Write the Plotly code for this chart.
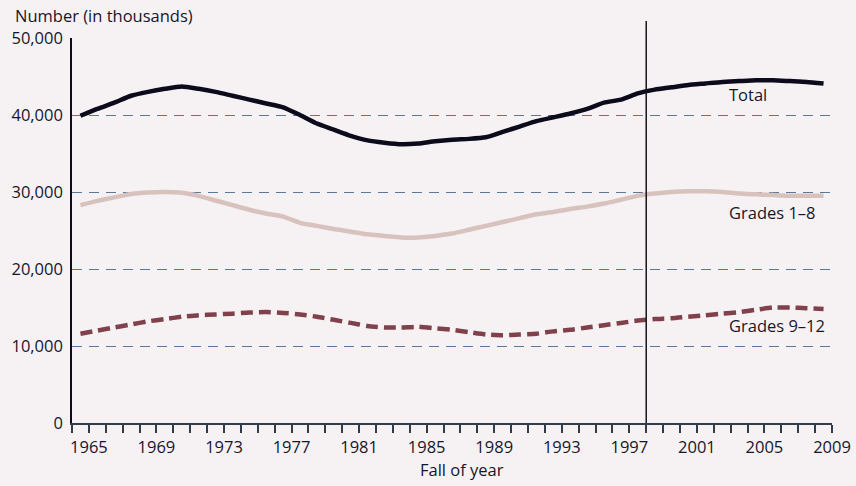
import plotly.graph_objects as go

years = list(range(1965, 2010))
total = [39.9, 40.8, 41.6, 42.5, 43.0, 43.4, 43.7, 43.4, 43.0, 42.5,
         42.0, 41.5, 41.0, 40.0, 38.9, 38.1, 37.3, 36.7, 36.4, 36.2,
         36.3, 36.6, 36.8, 36.9, 37.1, 37.8, 38.5, 39.2, 39.7, 40.2,
         40.8, 41.6, 42.0, 42.8, 43.3, 43.6, 43.9, 44.1, 44.3, 44.4,
         44.5, 44.5, 44.4, 44.3, 44.1]
grades_1_8 = [28.3, 28.85, 29.3, 29.75, 29.95, 30.0, 29.9, 29.5, 28.9, 28.3,
              27.7, 27.2, 26.8, 26.0, 25.6, 25.2, 24.85, 24.5, 24.3, 24.1,
              24.1, 24.3, 24.6, 25.1, 25.6, 26.1, 26.6, 27.1, 27.4, 27.8,
              28.1, 28.5, 29.0, 29.5, 29.8, 30.0, 30.1, 30.1, 30.0, 29.8,
              29.7, 29.6, 29.5, 29.5, 29.5]
grades_9_12 = [11.6, 12.0, 12.4, 12.8, 13.2, 13.5, 13.8, 14.0, 14.1, 14.2,
               14.35, 14.4, 14.3, 14.1, 13.8, 13.4, 13.0, 12.6, 12.4, 12.4,
               12.5, 12.3, 12.1, 11.8, 11.5, 11.4, 11.5, 11.6, 11.9, 12.1,
               12.4, 12.7, 13.0, 13.3, 13.5, 13.6, 13.8, 14.0, 14.2, 14.4,
               14.7, 15.0, 15.0, 14.9, 14.8]
tick_years = list(range(1965, 2010, 4))
y_ticks = [0, 10000, 20000, 30000, 40000, 50000]
projection_year = 1998

# points are drawn centred in each year's interval
xs = [y - 0.5 for y in years]

FONT = "Open Sans"
TXT = "#16162a"
BG = "#f6f2f4"
FS = 16.5

fig = go.Figure()
fig.add_trace(go.Scatter(x=xs, y=[v * 1000 for v in grades_1_8], mode="lines",
                         line=dict(color="#d8c2be", width=4.5, shape="spline", smoothing=0.5),
                         name="Grades 1–8"))
fig.add_trace(go.Scatter(x=xs, y=[v * 1000 for v in grades_9_12], mode="lines",
                         line=dict(color="#80404c", width=4.5, dash="12px,6px", shape="spline", smoothing=0.5),
                         name="Grades 9–12"))
fig.add_trace(go.Scatter(x=xs, y=[v * 1000 for v in total], mode="lines",
                         line=dict(color="#0b0b1c", width=4.5, shape="spline", smoothing=0.5),
                         name="Total"))

fig.add_shape(type="line", xref="x", yref="paper", x0=projection_year, x1=projection_year,
              y0=0, y1=1.044, line=dict(color="#14141e", width=1.5))

annos = [
    dict(text="Projected", x=projection_year + 0.2, y=52100, xanchor="left", yanchor="middle"),
    dict(text="Total", x=2002.8, y=42600, xanchor="left", yanchor="middle"),
    dict(text="Grades 1–8", x=2002.8, y=27300, xanchor="left", yanchor="middle"),
    dict(text="Grades 9–12", x=2002.8, y=12700, xanchor="left", yanchor="middle"),
]
for a in annos:
    fig.add_annotation(**a, xref="x", yref="y", showarrow=False,
                       font=dict(family=FONT, size=FS, color=TXT))

fig.add_annotation(text="Number (in thousands)", xref="paper", yref="paper",
                   x=-0.0776, y=1.0597, xanchor="left", yanchor="middle", showarrow=False,
                   font=dict(family=FONT, size=FS, color=TXT))
fig.add_annotation(text="Fall of year", xref="paper", yref="paper",
                   x=0.513, y=-0.122, xanchor="center", yanchor="middle", showarrow=False,
                   font=dict(family=FONT, size=FS, color=TXT))

fig.update_layout(
    width=856, height=486,
    margin=dict(l=72, r=24, t=38, b=63, autoexpand=False),
    paper_bgcolor=BG, plot_bgcolor=BG,
    showlegend=False,
    font=dict(family=FONT, size=FS, color=TXT),
)
fig.update_xaxes(range=[1964, 2009], tickvals=tick_years, ticktext=[str(t) for t in tick_years],
                 ticks="outside", ticklen=8, tickwidth=1.5, tickcolor="#2f3d4d",
                 minor=dict(ticks="outside", dtick=1, tick0=1964, ticklen=8, tickwidth=1.5,
                            tickcolor="#2f3d4d", showgrid=False),
                 showline=True, linecolor="#2f3d4d", linewidth=2, showgrid=False, zeroline=False,
                 tickfont=dict(family=FONT, size=FS, color=TXT))
fig.update_yaxes(range=[0, 50000], tickvals=y_ticks, tickformat=",d",
                 showline=True, linecolor="#0b0b1c", linewidth=1.5,
                 showgrid=True, gridcolor="#5b7898", gridwidth=1, griddash="10px,7px",
                 zeroline=False, ticks="", ticklabelstandoff=4,
                 tickfont=dict(family=FONT, size=FS, color=TXT))

fig.write_html("out.html", config={"displayModeBar": False},
               post_script="document.body.style.margin='0px';document.body.style.background='%s';" % BG)
